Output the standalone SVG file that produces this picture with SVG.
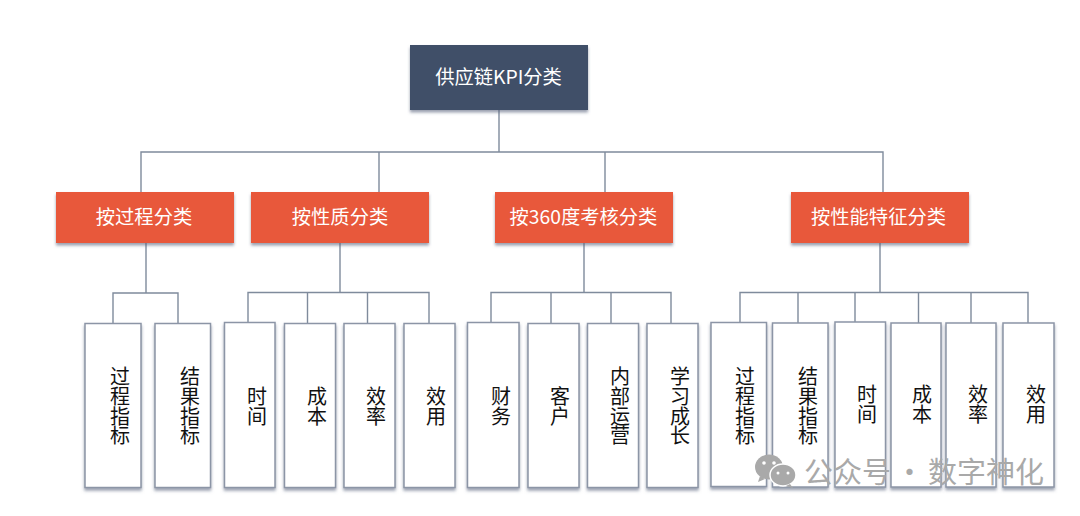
<svg xmlns="http://www.w3.org/2000/svg" width="1080" height="516" viewBox="0 0 1080 516">
<style>
text{font-family:"Noto Sans CJK SC","Noto Sans",sans-serif}
.root{fill:#404f67;filter:url(#sh)}
.cat{fill:#e8593b;filter:url(#sh)}
.leaf{fill:#fff;stroke:#8c95a6;stroke-width:1.5;filter:url(#sh)}
.lbl{fill:#fff;font-size:19.300px;text-anchor:middle;dominant-baseline:central}
.v{fill:#111;font-size:20px;letter-spacing:-.3px;text-anchor:middle;writing-mode:vertical-rl;dominant-baseline:central}
#connectors path{fill:none;stroke:#7f8b9c;stroke-width:1.4}
.wm{fill:#a9a9a9}
</style>
<defs>
<filter id="sh" x="-10%" y="-10%" width="120%" height="120%"><feDropShadow dx="0" dy="2.5" stdDeviation="1.5" flood-color="#55607a" flood-opacity=".6"/></filter>
</defs>
<rect width="1080" height="516" fill="#fff"/>
<g id="connectors">
<path d="M499 110V152M141 192V152H883V192M379 152V192M605 152V192"/>
<path d="M146 243V293M113 323V293H178V323"/>
<path d="M340 243V292.500M248 323V292.500H429V323M307.500 292.500V323M367.500 292.500V323"/>
<path d="M584 243V292.500M491 323V292.500H671V323M551 292.500V323M611 292.500V323"/>
<path d="M880 243V292.500M740 323V292.500H1028V323M798 292.500V323M855 292.500V323M918.500 292.500V323M971 292.500V323"/>
</g>
<g id="n-root"><rect class="root" x="410" y="45" width="178" height="65"/><text class="lbl" x="498.500" y="76">供应链KPI分类</text></g>
<g id="n-c1"><rect class="cat" x="56" y="192" width="178" height="51"/><text class="lbl" x="144" y="215.500">按过程分类</text></g>
<g id="n-c2"><rect class="cat" x="251" y="192" width="178" height="51"/><text class="lbl" x="340" y="215.500">按性质分类</text></g>
<g id="n-c3"><rect class="cat" x="495" y="192" width="178" height="51"/><text class="lbl" x="583.500" y="215.500">按360度考核分类</text></g>
<g id="n-c4"><rect class="cat" x="791" y="192" width="178" height="51"/><text class="lbl" x="878.500" y="215.500">按性能特征分类</text></g>
<g id="n-l1"><rect class="leaf" x="85" y="323.500" width="56" height="164"/><text class="v" x="120" y="406">过程指标</text></g>
<g id="n-l2"><rect class="leaf" x="155" y="323.500" width="55.500" height="164"/><text class="v" x="190" y="406">结果指标</text></g>
<g id="n-l3"><rect class="leaf" x="224.500" y="322.500" width="50.500" height="165"/><text class="v" x="257" y="406">时间</text></g>
<g id="n-l4"><rect class="leaf" x="284.500" y="323.500" width="51" height="164"/><text class="v" x="317" y="406">成本</text></g>
<g id="n-l5"><rect class="leaf" x="344" y="323.500" width="51" height="164"/><text class="v" x="376" y="406">效率</text></g>
<g id="n-l6"><rect class="leaf" x="404" y="323.500" width="51" height="164"/><text class="v" x="436" y="406">效用</text></g>
<g id="n-l7"><rect class="leaf" x="467.500" y="322.500" width="51.500" height="165"/><text class="v" x="501" y="406">财务</text></g>
<g id="n-l8"><rect class="leaf" x="528" y="323.500" width="51" height="164"/><text class="v" x="560" y="406">客户</text></g>
<g id="n-l9"><rect class="leaf" x="587.500" y="323.500" width="51" height="164"/><text class="v" x="620" y="406">内部运营</text></g>
<g id="n-l10"><rect class="leaf" x="647" y="323.500" width="51" height="164"/><text class="v" x="680" y="406">学习成长</text></g>
<g id="n-l11"><rect class="leaf" x="711" y="322.500" width="55.500" height="164"/><text class="v" x="745" y="406">过程指标</text></g>
<g id="n-l12"><rect class="leaf" x="772.500" y="323" width="55.500" height="164"/><text class="v" x="808" y="406">结果指标</text></g>
<g id="n-l13"><rect class="leaf" x="835" y="322" width="50.500" height="165"/><text class="v" x="867" y="404">时间</text></g>
<g id="n-l14"><rect class="leaf" x="891" y="323" width="50" height="164"/><text class="v" x="922" y="404">成本</text></g>
<g id="n-l15"><rect class="leaf" x="946" y="323" width="50" height="164"/><text class="v" x="978" y="404">效率</text></g>
<g id="n-l16"><rect class="leaf" x="1003" y="323" width="51" height="164"/><text class="v" x="1036" y="404">效用</text></g>
<g id="watermark">
<ellipse class="wm" cx="769" cy="467" rx="14" ry="12.500"/>
<path class="wm" d="M760 476l-2 6 7-3z"/>
<ellipse class="wm" cx="783" cy="475" rx="13" ry="11" stroke="#fff" stroke-width="1.500"/>
<path class="wm" d="M790 484l3 4-7-2z"/>
<g fill="#fff"><circle cx="764" cy="463" r="1.800"/><circle cx="774" cy="463" r="1.800"/><circle cx="778" cy="473" r="1.500"/><circle cx="788" cy="473" r="1.500"/></g>
<text class="wm" y="482.500" font-size="29" x="804">公众号<tspan x="895">·</tspan><tspan x="928">数字神化</tspan></text>
</g>
</svg>
